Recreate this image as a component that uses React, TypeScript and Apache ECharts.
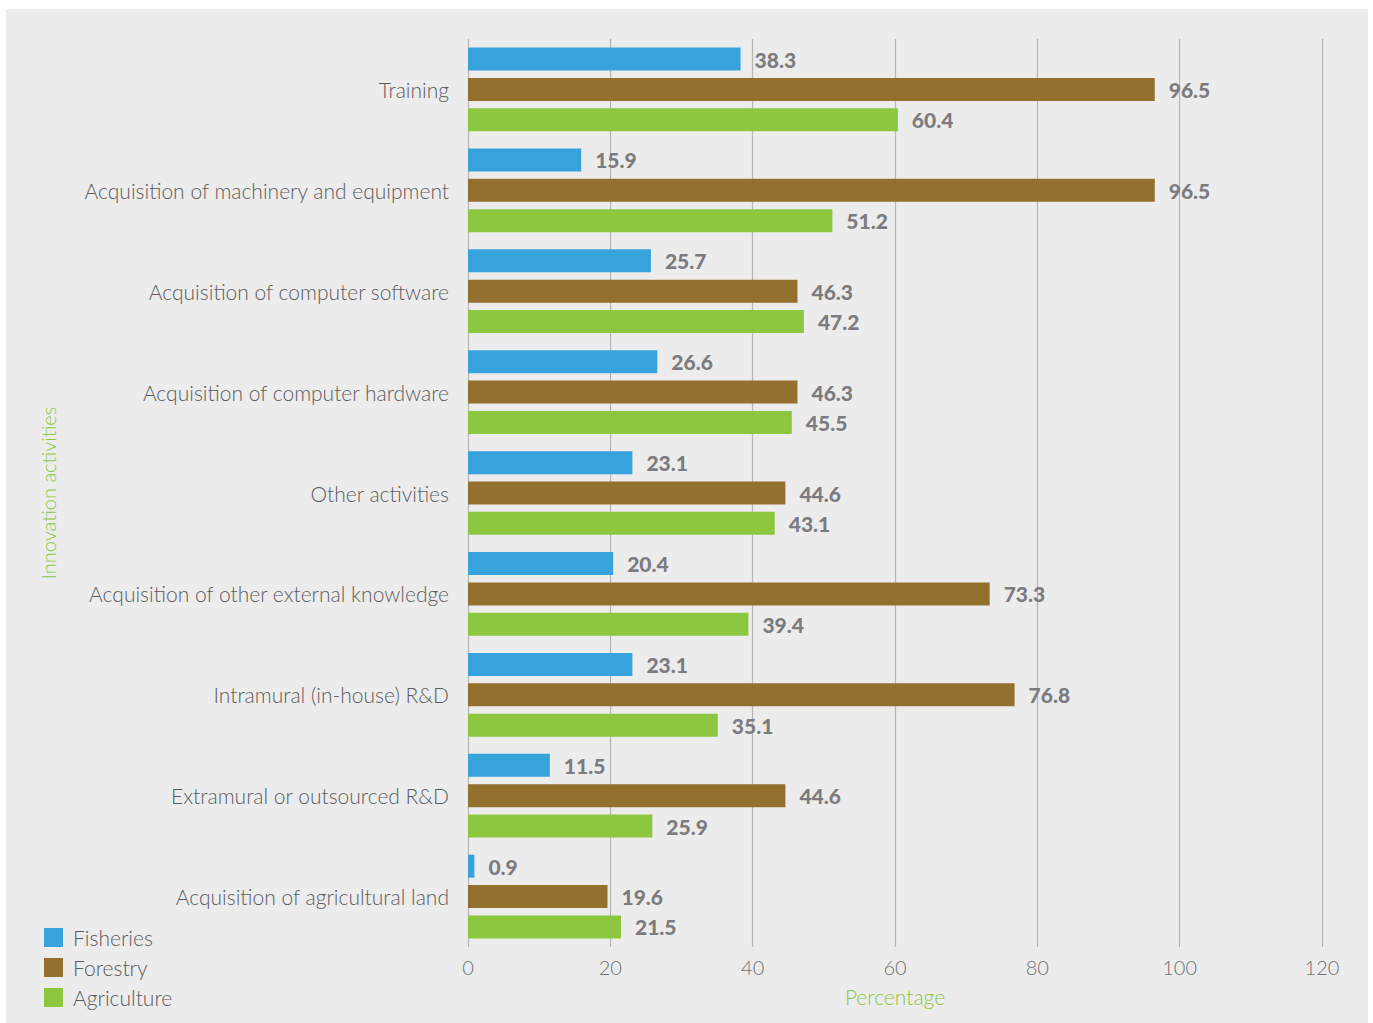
import React, { useEffect, useRef } from "react";
import * as echarts from "echarts";

const categories = [
  "Training",
  "Acquisition of machinery and equipment",
  "Acquisition of computer software",
  "Acquisition of computer hardware",
  "Other activities",
  "Acquisition of other external knowledge",
  "Intramural (in-house) R&D",
  "Extramural or outsourced R&D",
  "Acquisition of agricultural land",
];
const fisheries = [38.3, 15.9, 25.7, 26.6, 23.1, 20.4, 23.1, 11.5, 0.9];
const forestry = [96.5, 96.5, 46.3, 46.3, 44.6, 73.3, 76.8, 44.6, 19.6];
const agriculture = [60.4, 51.2, 47.2, 45.5, 43.1, 39.4, 35.1, 25.9, 21.5];
const seriesNames = ["Fisheries", "Forestry", "Agriculture"];
const colors = ["#36a3dc", "#93702e", "#8dc63f"];
const xTicks = { min: 0, max: 120, interval: 20 };

const FONT = "Lato, 'Open Sans', sans-serif";

export default function App() {
  const ref = useRef<HTMLDivElement>(null);
  useEffect(() => {
    document.body.style.margin = "0";
    const chart = echarts.init(ref.current!, null, { renderer: "svg" });
    const mk = (name: string, data: number[], color: string) => ({
      name,
      type: "bar",
      data,
      barWidth: 23,
      barGap: "32%",
      itemStyle: { color },
      label: {
        show: true,
        position: "right",
        distance: 14,
        color: "#7c7c80",
        fontWeight: 900,
        fontSize: 21,
        fontFamily: FONT,
        formatter: (p: any) => p.value.toFixed(1),
      },
    });
    chart.setOption({
      animation: false,
      backgroundColor: "#ffffff",
      textStyle: { fontFamily: FONT },
      graphic: [
        {
          type: "rect",
          z: -10,
          silent: true,
          shape: { x: 6, y: 9, width: 1362, height: 1014 },
          style: { fill: "#ececec" },
        },
      ],
      grid: { left: 468, top: 39, width: 854, height: 908, containLabel: false },
      legend: {
        orient: "vertical",
        left: 44,
        top: 927,
        padding: 0,
        itemWidth: 19,
        itemHeight: 19,
        itemGap: 9,
        icon: "rect",
        textStyle: {
          fontSize: 21,
          lineHeight: 19,
          color: "#5a5a5e",
          fontWeight: 300,
          fontFamily: FONT,
          padding: [0, 0, 0, 5],
        },
        data: seriesNames,
      },
      xAxis: {
        type: "value",
        min: xTicks.min,
        max: xTicks.max,
        interval: xTicks.interval,
        axisLine: { show: false },
        axisTick: { show: false },
        splitLine: { show: true, lineStyle: { color: "#b5b5b5", width: 1.2 } },
        axisLabel: { color: "#707074", fontSize: 20, fontWeight: 300, margin: 10, fontFamily: FONT },
        name: "Percentage",
        nameLocation: "middle",
        nameGap: 39,
        nameTextStyle: { color: "#8dc63f", fontSize: 21, fontWeight: 300, fontFamily: FONT },
      },
      yAxis: {
        type: "category",
        data: categories,
        inverse: true,
        axisLine: { show: false },
        axisTick: { show: false },
        axisLabel: { color: "#5c5c60", fontSize: 21, fontWeight: 300, margin: 19, fontFamily: FONT },
        name: "Innovation activities",
        nameLocation: "middle",
        nameGap: 410,
        nameTextStyle: { color: "#8dc63f", fontSize: 20, fontWeight: 300, fontFamily: FONT },
      },
      series: [
        mk(seriesNames[0], fisheries, colors[0]),
        mk(seriesNames[1], forestry, colors[1]),
        mk(seriesNames[2], agriculture, colors[2]),
      ],
    });
    return () => chart.dispose();
  }, []);
  return <div ref={ref} style={{ width: 1373, height: 1023 }} />;
}
